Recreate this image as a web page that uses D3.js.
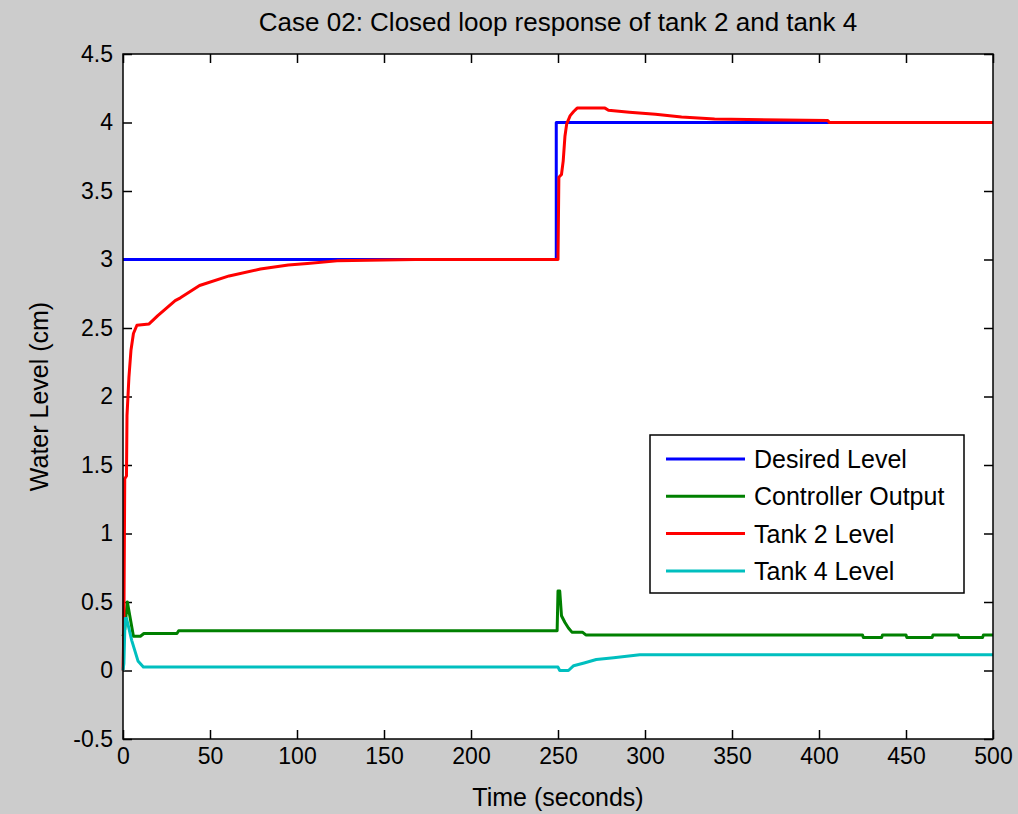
<!DOCTYPE html>
<html>
<head>
    <meta charset="utf-8" />
    <title>Case 02: Closed loop response of tank 2 and tank 4</title>
    <style>
        body { margin: 0; background: #cccccc; }
        svg { display: block; font-family: "Liberation Sans", Arial, sans-serif; }
        .tick text { font-size: 23px; fill: #000; font-family: "Liberation Sans", Arial, sans-serif; }
        .series { fill: none; stroke-width: 3px; stroke-linejoin: round; }
    </style>
</head>
<body>
<svg id="chart" width="1018" height="814"></svg>
<script src="https://d3js.org/d3.v7.min.js"></script>
<script>
// Desired level (setpoint)
var desiredT = [0, 249, 249, 500];
var desiredV = [3, 3, 4, 4];

// Controller output
var ctrlT = [0, 1, 2.5, 6, 10, 12, 14, 31, 32, 249.5, 250, 251, 252, 254, 256, 258, 264, 266, 425, 425.5, 436, 436.5, 450, 450.5, 465, 465.5, 480, 480.5, 494, 494.5, 500];
var ctrlV = [0.25, 0.3, 0.5, 0.25, 0.25, 0.27, 0.27, 0.27, 0.29, 0.29, 0.58, 0.58, 0.40, 0.35, 0.31, 0.28, 0.28, 0.26, 0.26, 0.24, 0.24, 0.26, 0.26, 0.24, 0.24, 0.26, 0.26, 0.24, 0.24, 0.26, 0.26];

// Tank 2 level
var tank2T = [0, 0.5, 1, 2, 2.3, 3.4, 4.6, 6, 8, 15, 20, 30, 33, 44, 61, 79, 95, 106, 123, 168, 250, 250.5, 252, 253, 254, 255, 257, 259, 261, 277, 279, 291, 306, 321, 340, 405, 406, 500];
var tank2V = [0, 0.3, 1.4, 1.42, 1.86, 2.14, 2.34, 2.46, 2.52, 2.53, 2.59, 2.70, 2.72, 2.81, 2.88, 2.93, 2.96, 2.97, 2.99, 3.0, 3.0, 3.6, 3.62, 3.72, 3.9, 3.99, 4.05, 4.08, 4.105, 4.105, 4.09, 4.075, 4.06, 4.04, 4.025, 4.015, 4.0, 4.0];

// Tank 4 level
var tank4T = [0, 0.5, 1.2, 2, 3, 5, 8.6, 11.7, 250, 251, 256, 259, 265, 272, 282, 297, 500];
var tank4V = [0, 0.05, 0.38, 0.38, 0.33, 0.22, 0.07, 0.025, 0.025, 0.0, 0.0, 0.035, 0.055, 0.08, 0.093, 0.115, 0.115];

var xTicks = [0, 50, 100, 150, 200, 250, 300, 350, 400, 450, 500];
var yTicks = [-0.5, 0, 0.5, 1, 1.5, 2, 2.5, 3, 3.5, 4, 4.5];

var seriesNames = ["Desired Level", "Controller Output", "Tank 2 Level", "Tank 4 Level"];
var seriesColors = ["#0000ff", "#008000", "#ff0000", "#00bfbf"];

var svg = d3.select("#chart");
var plotL = 123, plotT = 54, plotR = 993, plotB = 739;

var x = d3.scaleLinear().domain([0, 500]).range([plotL, plotR]);
var y = d3.scaleLinear().domain([-0.5, 4.5]).range([plotB, plotT]);

// plot background
svg.append("rect")
    .attr("x", plotL).attr("y", plotT)
    .attr("width", plotR - plotL).attr("height", plotB - plotT)
    .attr("fill", "#fff");

function fmt(d) { return String(d); }

// axes with inward ticks on all four sides
svg.append("g").attr("transform", "translate(0," + plotB + ")")
    .call(d3.axisBottom(x).tickValues(xTicks).tickSizeInner(-9).tickSizeOuter(0).tickPadding(9).tickFormat(fmt));
svg.append("g").attr("transform", "translate(0," + plotT + ")")
    .call(d3.axisTop(x).tickValues(xTicks).tickSizeInner(-9).tickSizeOuter(0).tickFormat(""));
svg.append("g").attr("transform", "translate(" + plotL + ",0)")
    .call(d3.axisLeft(y).tickValues(yTicks).tickSizeInner(-9).tickSizeOuter(0).tickPadding(10).tickFormat(fmt));
svg.append("g").attr("transform", "translate(" + plotR + ",0)")
    .call(d3.axisRight(y).tickValues(yTicks).tickSizeInner(-9).tickSizeOuter(0).tickFormat(""));
svg.selectAll(".domain").remove();
svg.selectAll(".tick line").attr("stroke", "#000").attr("stroke-width", 1.5);

// data lines
var allT = [desiredT, ctrlT, tank2T, tank4T];
var allV = [desiredV, ctrlV, tank2V, tank4V];
var line = d3.line().x(function(d) { return x(d[0]); }).y(function(d) { return y(d[1]); });

allT.forEach(function(ts, i) {
    var pts = ts.map(function(t, j) { return [t, allV[i][j]]; });
    svg.append("path")
        .attr("class", "series")
        .attr("d", line(pts))
        .attr("stroke", seriesColors[i]);
});

// box
svg.append("rect")
    .attr("x", plotL).attr("y", plotT)
    .attr("width", plotR - plotL).attr("height", plotB - plotT)
    .attr("fill", "none").attr("stroke", "#000").attr("stroke-width", 1.5);

// title and labels
svg.append("text")
    .attr("x", (plotL + plotR) / 2).attr("y", 31)
    .attr("text-anchor", "middle")
    .attr("font-size", 26)
    .text("Case 02: Closed loop response of tank 2 and tank 4");
svg.append("text")
    .attr("x", (plotL + plotR) / 2).attr("y", 806)
    .attr("text-anchor", "middle")
    .attr("font-size", 25)
    .text("Time (seconds)");
svg.append("text")
    .attr("transform", "translate(48," + (plotT + plotB) / 2 + ") rotate(-90)")
    .attr("text-anchor", "middle")
    .attr("font-size", 25)
    .text("Water Level (cm)");

// legend
var lg = svg.append("g").attr("transform", "translate(650,435)");
lg.append("rect")
    .attr("width", 314).attr("height", 158)
    .attr("fill", "#fff").attr("stroke", "#000").attr("stroke-width", 1.5);
seriesNames.forEach(function(name, i) {
    var yy = 24 + i * 37.3;
    lg.append("line")
        .attr("x1", 16).attr("x2", 95)
        .attr("y1", yy).attr("y2", yy)
        .attr("stroke", seriesColors[i]).attr("stroke-width", 3);
    lg.append("text")
        .attr("x", 104).attr("y", yy + 9)
        .attr("font-size", 25)
        .text(name);
});
</script>
</body>
</html>
